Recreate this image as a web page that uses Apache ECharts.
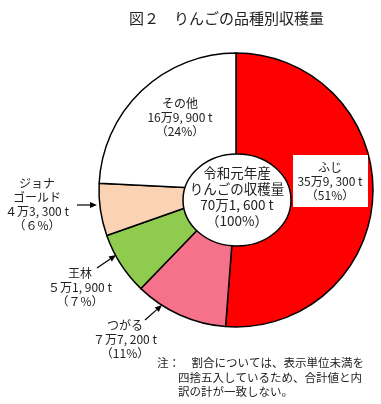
<!DOCTYPE html>
<html>
<head>
<meta charset="utf-8">
<script src="https://cdn.jsdelivr.net/npm/echarts@6/dist/echarts.min.js"></script>
<style>
html,body{margin:0;padding:0;background:#fff;}
#c{width:381px;height:404px;}
</style>
</head>
<body>
<div id="c"></div>
<script>
// ---- data ----
const categories = ['ふじ', 'つがる', '王林', 'ジョナゴールド', 'その他'];
const labelNames = ['ふじ', 'つがる', '王林', 'ジョナ\nゴールド', 'その他'];
const values = [359300, 77200, 51900, 43300, 169900];      // t
const percents = [51, 11, 7, 6, 24];                         // %
const totalLabel = '令和元年産\nりんごの収穫量';
const totalValue = 701600;
const totalPercent = 100;
const titleText = '図２　りんごの品種別収穫量';
const noteLines = ['注：　割合については、表示単位未満を', '四捨五入しているため、合計値と内', '訳の計が一致しない。'];

// ---- styles / layout ----
const colors = ['#FF0000', '#F6718A', '#8FCB4E', '#FAD2B4', '#FFFFFF'];
const FONT = '"Noto Sans CJK JP", "Noto Sans", sans-serif';
const CX = 236, CY = 190, R = 137;
const labelPos = [[330, 181], [125, 339], [80, 287], [37, 204], [180, 117]];
const arrows = [null, [145, 320, 162, 305], [97, 268, 116, 255], null, null]; // label arrows
const arrowsJona = [77, 205, 97, 205];

function fw(n) { // single digits drawn full-width as in the reference
  const s = String(n);
  return s.length === 1 ? String.fromCharCode(0xFF10 + n) : s;
}
function fmtT(v) {
  const man = Math.floor(v / 10000), rest = v % 10000;
  return fw(man) + '万' + rest.toLocaleString('en-US').replace(',', ', ') + ' t';
}
function fmtP(p) { return '（' + fw(p) + '%）'; }

const chart = echarts.init(document.getElementById('c'), null, {renderer: 'canvas'});

const graphics = [];
// white box behind the ふじ label
graphics.push({type: 'rect', shape: {x: 293, y: 155, width: 75, height: 52}, style: {fill: '#fff'}, z: 10});
// labels
categories.forEach((c, i) => {
  const [x, y] = labelPos[i];
  graphics.push({
    type: 'text', z: 20,
    style: {
      text: labelNames[i] + '\n' + fmtT(values[i]) + '\n' + fmtP(percents[i]),
      x: x, y: y, font: '12px ' + FONT, fill: '#222',
      textAlign: 'center', textVerticalAlign: 'middle', lineHeight: 14
    }
  });
});
function arrow(a) {
  const [x1, y1, x2, y2] = a;
  const ang = Math.atan2(y2 - y1, x2 - x1), L = 7, W = 3;
  const bx = x2 - L * Math.cos(ang), by = y2 - L * Math.sin(ang);
  graphics.push({type: 'line', shape: {x1, y1, x2: bx, y2: by}, style: {stroke: '#000', lineWidth: 1.2}, z: 20});
  graphics.push({type: 'polygon', shape: {points: [[x2, y2],
    [bx + W * Math.sin(ang), by - W * Math.cos(ang)],
    [bx - W * Math.sin(ang), by + W * Math.cos(ang)]]}, style: {fill: '#000'}, z: 20});
}
arrows.forEach(a => { if (a) arrow(a); });
arrow(arrowsJona);
// central ellipse with total
graphics.push({type: 'ellipse', shape: {cx: 237, cy: 200, rx: 54, ry: 46},
  style: {fill: '#fff', stroke: '#000', lineWidth: 1.5}, z: 15});
graphics.push({type: 'text', z: 20, style: {
  text: totalLabel + '\n' + fmtT(totalValue) + '\n' + fmtP(totalPercent),
  x: 237, y: 197, font: '13.5px ' + FONT, fill: '#222',
  textAlign: 'center', textVerticalAlign: 'middle', lineHeight: 16}});
// note
graphics.push({type: 'text', z: 20, style: {text: noteLines[0], x: 157, y: 363, font: '11.5px ' + FONT, fill: '#222', textVerticalAlign: 'middle'}});
graphics.push({type: 'text', z: 20, style: {text: noteLines[1] + '\n' + noteLines[2], x: 178, y: 385, font: '11.5px ' + FONT, fill: '#222', textVerticalAlign: 'middle', lineHeight: 14}});

chart.setOption({
  animation: false,
  backgroundColor: '#fff',
  title: {
    text: titleText, left: 124, top: 6,
    textStyle: {fontFamily: FONT, fontSize: 15, fontWeight: 'normal', color: '#222'}
  },
  series: [{
    type: 'pie',
    center: [CX, CY],
    radius: [0, R],
    startAngle: 90,
    clockwise: true,
    silent: true,
    label: {show: false},
    labelLine: {show: false},
    itemStyle: {borderColor: '#000', borderWidth: 1.5},
    data: categories.map((c, i) => ({name: c, value: values[i], itemStyle: {color: colors[i]}}))
  }],
  graphic: graphics
});
</script>
</body>
</html>
